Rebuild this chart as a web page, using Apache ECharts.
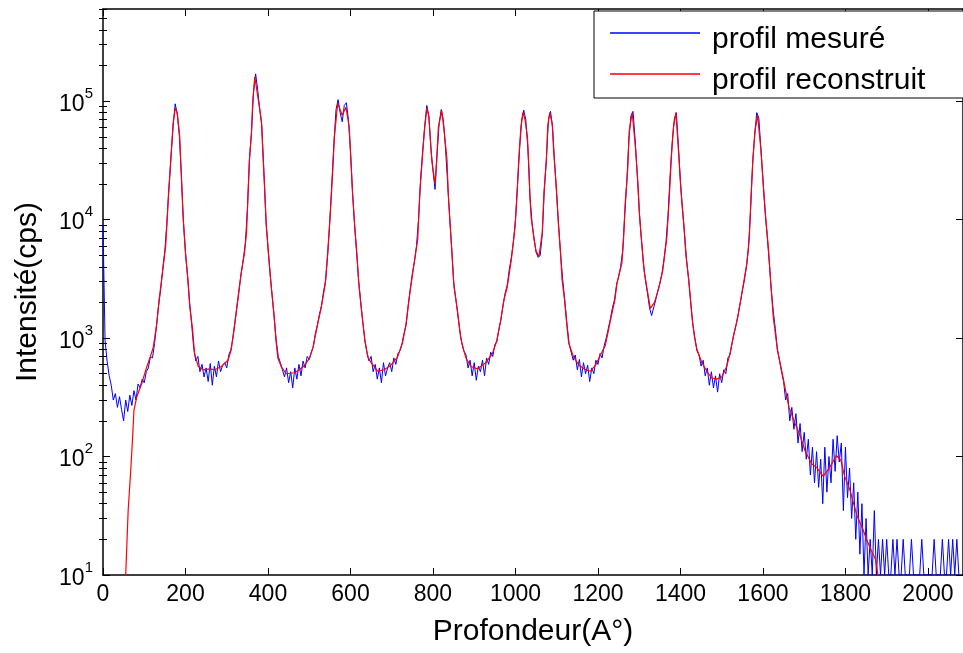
<!DOCTYPE html>
<html>
<head>
<meta charset="utf-8">
<script src="https://cdn.jsdelivr.net/npm/echarts@6/dist/echarts.min.js"></script>
<style>
  html, body { margin: 0; padding: 0; background: #fff; }
  #chart { width: 963px; height: 653px; }
</style>
</head>
<body>
<div id="chart"></div>
<script>
// tick positions
const depthTicks = [0, 200, 400, 600, 800, 1000, 1200, 1400, 1600, 1800, 2000]
const cpsMajorTicks = [10, 100, 1000, 10000, 100000]
const cpsMinorTicks = [
  20, 30, 40, 50, 60, 70, 80, 90,
  200, 300, 400, 500, 600, 700, 800, 900,
  2000, 3000, 4000, 5000, 6000, 7000, 8000, 9000,
  20000, 30000, 40000, 50000, 60000, 70000, 80000, 90000,
  200000, 300000, 400000, 500000, 600000
]

// profil mesuré : one value every 5 A from 0 A
const measStart = 0
const measStep = 5
const measCps = [
  9000, 950, 640, 480, 400, 300, 340, 260, 320, 250, 200, 300, 240, 330, 270, 360, 300, 410, 380, 450,
  420, 520, 560, 700, 680, 900, 1300, 1900, 2600, 3900, 5500, 9500, 19000, 35000, 62000, 95000, 78000, 52000, 24000, 9500,
  5300, 3300, 2000, 1300, 820, 640, 700, 520, 600, 470, 560, 430, 610, 400, 580, 470, 640, 520, 590, 620,
  560, 720, 800, 1000, 1350, 1900, 2600, 3500, 4600, 6300, 12000, 32000, 55000, 120000, 170000, 125000, 85000, 62000, 26000, 10000,
  5800, 3500, 2300, 1500, 950, 700, 620, 540, 470, 560, 420, 520, 380, 560, 450, 600, 480, 640, 560, 700,
  660, 760, 850, 1100, 1300, 1600, 1900, 2500, 3100, 5200, 10000, 21000, 45000, 85000, 103000, 80000, 67000, 92000, 97000, 70000,
  38000, 17000, 9000, 5200, 3000, 2000, 1350, 950, 760, 640, 700, 520, 600, 450, 560, 420, 620, 480, 560, 620,
  520, 680, 600, 740, 780, 900, 1100, 1300, 1900, 2600, 3500, 4400, 6000, 10000, 22000, 38000, 62000, 92000, 75000, 40000,
  26000, 18000, 36000, 65000, 85000, 70000, 42000, 22000, 11000, 6000, 3000, 2200, 1600, 1150, 900, 780, 720, 560, 650, 480,
  620, 440, 580, 520, 650, 480, 680, 600, 760, 700, 880, 940, 1200, 1450, 1900, 2400, 2800, 3800, 4800, 6500,
  10000, 20000, 40000, 68000, 84000, 70000, 40000, 16000, 9500, 7000, 5300, 4800, 5000, 7500, 18000, 33000, 70000, 82000, 60000, 30000,
  16000, 8500, 4800, 3000, 2000, 1300, 900, 760, 650, 720, 540, 660, 470, 620, 500, 590, 430, 560, 500, 650,
  600, 740, 680, 860, 1000, 1200, 1450, 1800, 2100, 2800, 3300, 4000, 5500, 11000, 21000, 48000, 75000, 82000, 48000, 25000,
  12000, 7000, 4300, 3100, 2400, 1800, 1550, 1800, 2100, 2500, 2900, 3500, 4600, 6500, 11000, 24000, 45000, 70000, 80000, 42000,
  21000, 12000, 7500, 4500, 3100, 2000, 1300, 1000, 780, 720, 580, 650, 480, 560, 400, 520, 380, 480, 350, 500,
  420, 540, 500, 680, 720, 900, 1100, 1300, 1600, 2000, 2500, 3100, 4000, 5800, 12000, 30000, 52000, 80000, 72000, 40000,
  22000, 12000, 7500, 4500, 2600, 1700, 1200, 800, 650, 520, 430, 300, 340, 200, 260, 170, 230, 130, 190, 110,
  160, 95, 140, 70, 120, 60, 110, 55, 95, 40, 120, 50, 100, 60, 140, 75, 150, 90, 130, 35,
  120, 45, 80, 30, 60, 20, 50, 15, 40, 10, 30, 10, 20, 10, 35, 10, 20, 10, 20, 10,
  20, 10, 10, 20, 10, 20, 10, 10, 20, 10, 10, 10, 20, 10, 10, 10, 10, 20, 10, 10,
  10, 10, 10, 20, 10, 10, 10, 20, 10, 10, 20, 10, 20, 10, 20, 10
]

// profil reconstruit : [profondeur (A), intensité (cps)]
const recProfile = [
  [55, 10], [57, 15], [61, 35], [67, 74], [72, 150], [75, 245], [82, 320], [94, 415], [106, 570], [115, 700],
  [122, 840], [130, 1300], [136, 2100], [146, 4000], [152, 6000], [158, 14500], [164, 30000], [170, 65000],
  [175, 87000], [180, 80000], [186, 50000], [190, 23000], [194, 11000], [200, 5200], [206, 3100], [210, 1900],
  [217, 1200], [222, 740], [231, 575], [243, 540], [259, 550], [271, 540], [287, 575], [303, 650], [311, 800],
  [319, 1300], [327, 2100], [335, 3550], [343, 5200], [348, 7800], [351, 14500], [355, 32000], [360, 54000],
  [363, 100000], [368, 160000], [370, 165000], [377, 100000], [384, 69000], [388, 34000], [392, 18000],
  [396, 8700], [402, 4800], [408, 2700], [414, 1650], [420, 910], [424, 680], [432, 575], [444, 500],
  [464, 510], [476, 540], [489, 590], [501, 680], [509, 830], [522, 1400], [529, 1800], [539, 2900],
  [545, 5400], [551, 11000], [557, 26000], [561, 50000], [569, 96000], [580, 76000], [589, 89000],
  [597, 60000], [601, 32000], [605, 16600], [611, 8100], [616, 4900], [620, 2900], [626, 1800], [631, 1260],
  [635, 950], [642, 690], [650, 620], [666, 525], [682, 540], [698, 590], [714, 690], [726, 910], [734, 1260],
  [744, 2400], [753, 4000], [763, 6800], [768, 16600], [775, 36000], [779, 55000], [785, 87000], [790, 74000],
  [797, 32000], [805, 20000], [809, 32000], [813, 60000], [819, 76000], [821, 83000], [827, 57000],
  [834, 32000], [837, 16600], [842, 8700], [847, 4600], [851, 2700], [859, 1740], [867, 1020], [874, 800],
  [880, 680], [892, 575], [908, 550], [928, 620], [944, 740], [954, 930], [964, 1400], [972, 2100],
  [980, 2700], [990, 4600], [999, 8700], [1004, 16600], [1008, 32000], [1013, 60000], [1018, 80000],
  [1023, 70000], [1029, 50000], [1033, 26000], [1035, 15500], [1038, 10500], [1045, 6800], [1050, 5400],
  [1057, 4900], [1065, 7800], [1069, 16600], [1075, 32000], [1078, 60000], [1083, 80000], [1089, 65000],
  [1093, 36000], [1099, 19000], [1104, 9300], [1109, 5400], [1113, 3100], [1119, 2100], [1124, 1350],
  [1129, 910], [1141, 690], [1154, 590], [1170, 540], [1182, 525], [1194, 590], [1206, 720], [1218, 870],
  [1230, 1400], [1241, 2100], [1246, 2900], [1258, 4300], [1262, 6800], [1266, 13800], [1272, 26000],
  [1276, 57000], [1283, 80000], [1291, 40000], [1297, 20000], [1301, 10500], [1307, 5900], [1312, 3700],
  [1319, 2600], [1327, 1780], [1337, 2000], [1347, 2600], [1357, 3700], [1367, 7100], [1373, 15500],
  [1378, 34000], [1383, 60000], [1389, 80000], [1395, 39000], [1401, 17800], [1408, 9300], [1413, 5100],
  [1420, 3100], [1428, 1500], [1434, 1020], [1440, 800], [1452, 620], [1464, 525], [1476, 460], [1488, 450],
  [1500, 470], [1512, 575], [1520, 740], [1528, 1020], [1539, 1500], [1549, 2400], [1561, 4300], [1567, 7100],
  [1571, 15500], [1576, 34000], [1581, 57000], [1587, 76000], [1595, 39000], [1601, 19000], [1607, 10000],
  [1613, 5900], [1619, 2900], [1625, 1500], [1629, 1170], [1635, 800], [1647, 500], [1655, 360], [1663, 260],
  [1678, 190], [1690, 150], [1702, 112], [1718, 87], [1730, 81], [1746, 68], [1762, 81], [1778, 102],
  [1789, 93], [1798, 68], [1811, 52], [1819, 41], [1829, 31], [1843, 24], [1851, 20], [1863, 16],
  [1873, 13.5], [1879, 10]
]

const FONT = 'Liberation Sans'
const measProfile = measCps.map((v, i) => [measStart + i * measStep, v])

const chart = echarts.init(document.getElementById('chart'))

const axisLine = { show: true, onZero: false, lineStyle: { color: '#000', width: 1.5 } }
const logBase = { type: 'log', logBase: 10, min: 10, max: 600000, splitLine: { show: false } }

const option = {
  backgroundColor: '#fff',
  animation: false,
  grid: { left: 103, top: 9, width: 862, height: 566 },
  legend: {
    data: ['profil mesuré', 'profil reconstruit'],
    orient: 'vertical',
    left: 594,
    top: 11,
    icon: 'rect',
    itemWidth: 90,
    itemHeight: 1.5,
    itemGap: -3,
    padding: [0, 60, 2, 16],
    borderColor: '#000',
    borderWidth: 1,
    backgroundColor: '#fff',
    formatter: name => '{t|' + name + '}',
    textStyle: {
      rich: {
        t: { fontFamily: FONT, fontSize: 30, color: '#000', lineHeight: 30, padding: [14, 0, 0, 7] }
      }
    }
  },
  xAxis: [
    {
      type: 'value',
      position: 'bottom',
      min: 0,
      max: 2085,
      axisLine: axisLine,
      axisTick: { inside: true, length: 7, customValues: depthTicks, lineStyle: { color: '#000' } },
      axisLabel: {
        customValues: depthTicks,
        formatter: v => String(v),
        color: '#000', fontFamily: FONT, fontSize: 23, margin: 8
      },
      splitLine: { show: false },
      name: 'Profondeur(A°)',
      nameLocation: 'middle',
      nameGap: 42,
      nameTextStyle: { fontFamily: FONT, fontSize: 30, color: '#000' }
    },
    {
      type: 'value',
      position: 'top',
      min: 0,
      max: 2085,
      axisLine: axisLine,
      axisTick: { inside: true, length: 7, customValues: depthTicks, lineStyle: { color: '#000' } },
      axisLabel: { show: false },
      splitLine: { show: false }
    }
  ],
  yAxis: [
    Object.assign({}, logBase, {
      position: 'left',
      axisLine: axisLine,
      axisTick: { inside: true, length: 7, customValues: cpsMajorTicks, lineStyle: { color: '#000' } },
      axisLabel: {
        customValues: cpsMajorTicks,
        margin: 10,
        formatter: v => '{b|10}{s|' + Math.round(Math.log10(v)) + '}',
        rich: {
          b: { fontFamily: FONT, fontSize: 23, color: '#000', lineHeight: 30, verticalAlign: 'bottom' },
          s: { fontFamily: FONT, fontSize: 15, color: '#000', lineHeight: 18, verticalAlign: 'top' }
        }
      },
      name: 'Intensité(cps)',
      nameLocation: 'middle',
      nameGap: 60,
      nameTextStyle: { fontFamily: FONT, fontSize: 30, color: '#000' }
    }),
    Object.assign({}, logBase, {
      position: 'left',
      axisLine: { show: false },
      axisTick: { inside: true, length: 4, customValues: cpsMinorTicks, lineStyle: { color: '#000' } },
      axisLabel: { show: false }
    }),
    Object.assign({}, logBase, {
      position: 'right',
      axisLine: axisLine,
      axisTick: { inside: true, length: 7, customValues: cpsMajorTicks, lineStyle: { color: '#000' } },
      axisLabel: { show: false }
    }),
    Object.assign({}, logBase, {
      position: 'right',
      axisLine: { show: false },
      axisTick: { inside: true, length: 4, customValues: cpsMinorTicks, lineStyle: { color: '#000' } },
      axisLabel: { show: false }
    })
  ],
  series: [
    {
      name: 'profil mesuré',
      type: 'line',
      data: measProfile,
      showSymbol: false,
      symbol: 'none',
      clip: true,
      color: '#0000ff',
      lineStyle: { color: '#0000ff', width: 1 }
    },
    {
      name: 'profil reconstruit',
      type: 'line',
      data: recProfile,
      showSymbol: false,
      symbol: 'none',
      clip: true,
      color: '#ff0000',
      lineStyle: { color: '#ff0000', width: 1.2 }
    }
  ]
}

chart.setOption(option)
</script>
</body>
</html>
